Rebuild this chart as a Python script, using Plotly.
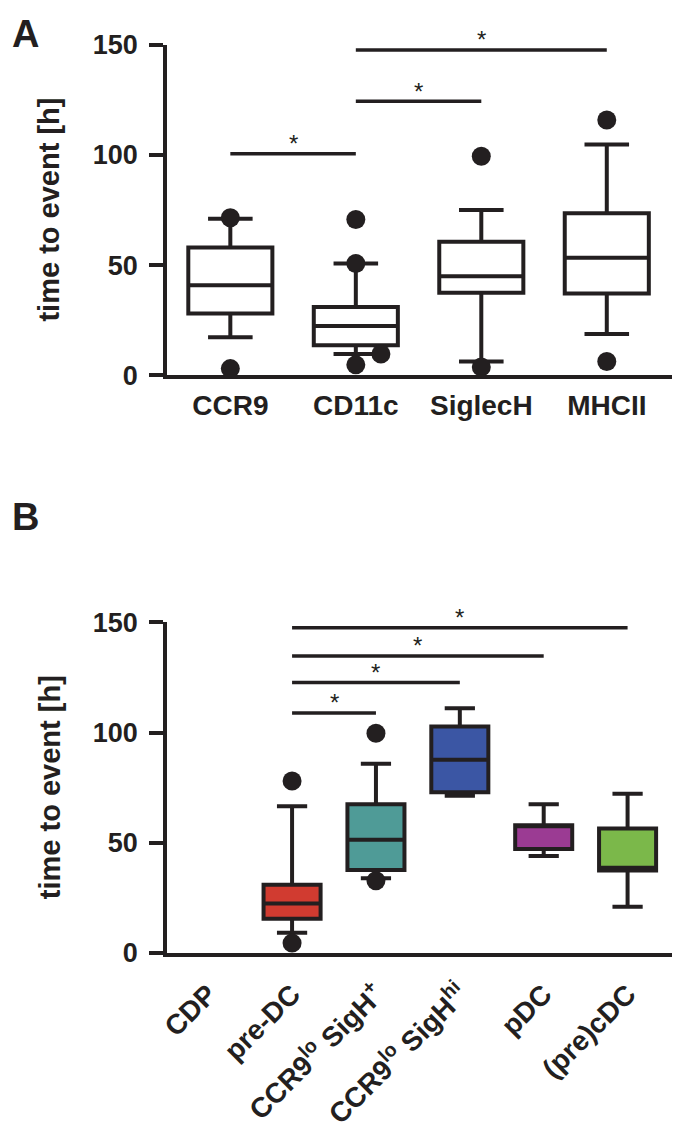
import plotly.graph_objects as go

W, H = 675, 1133
INK = "#231f20"
FONT = "Liberation Sans, Arial, sans-serif"

# ---------------- Panel A data ----------------
a_cats = ["CCR9", "CD11c", "SiglecH", "MHCII"]
a_low = [17.2, 9.6, 6.2, 18.7]
a_q1 = [28, 13.6, 37.5, 37.1]
a_med = [40.8, 22.4, 44.9, 53.3]
a_q3 = [58, 31, 60.6, 73.6]
a_high = [71, 50.7, 75, 104.8]
a_outliers = [[71.5, 3.0], [70.7, 50.7, 4.7], [99.4, 3.7], [115.9, 6.2]]
a_side_outliers = [[], [9.6], [], []]
a_sig = [(0, 1, 100.6), (1, 2, 124.4), (1, 3, 147.7)]

# ---------------- Panel B data ----------------
b_cats = ["CDP", "pre-DC", "CCR9<sup>lo</sup> SigH<sup>+</sup>",
          "CCR9<sup>lo</sup> SigH<sup>hi</sup>", "pDC", "(pre)cDC"]
b_low = [None, 9.1, 33.9, 71.3, 43.9, 20.9]
b_q1 = [None, 15.5, 37.6, 72.9, 47.1, 37.4]
b_med = [None, 22.4, 51.3, 87.7, 57.9, 38.6]
b_q3 = [None, 30.9, 67.5, 102.8, 57.9, 56.4]
b_high = [None, 66.6, 85.9, 111.1, 67.5, 72.2]
b_outliers = [[], [78.0, 4.4], [99.7, 32.7], [], [], []]
b_colors = [None, "#d13b30", "#4f9b97", "#3b56a4", "#9b3b93", "#7bb84a"]
b_sig = [(1, 2, 108.9), (1, 3, 122.7), (1, 4, 134.8), (1, 5, 147.6)]

SIDE_OFFSET = 0.2


def py(px):
    return 1 - px / H


def pxx(px):
    return px / W


fig = go.Figure()

# Panel A boxes
for i, c in enumerate(a_cats):
    fig.add_trace(go.Box(
        x=[i], q1=[a_q1[i]], median=[a_med[i]], q3=[a_q3[i]],
        lowerfence=[a_low[i]], upperfence=[a_high[i]],
        width=0.67, whiskerwidth=0.53, fillcolor="white",
        line=dict(color=INK, width=4), boxpoints=False,
        xaxis="x", yaxis="y", showlegend=False, name=c))
    xs = [i] * len(a_outliers[i]) + [i + SIDE_OFFSET] * len(a_side_outliers[i])
    ys = a_outliers[i] + a_side_outliers[i]
    fig.add_trace(go.Scatter(
        x=xs, y=ys, mode="markers", cliponaxis=False,
        marker=dict(size=19, color=INK), xaxis="x", yaxis="y", showlegend=False))

# Panel B boxes
for i, c in enumerate(b_cats):
    if b_q1[i] is None:
        continue
    fig.add_trace(go.Box(
        x=[i], q1=[b_q1[i]], median=[b_med[i]], q3=[b_q3[i]],
        lowerfence=[b_low[i]], upperfence=[b_high[i]],
        width=0.68, whiskerwidth=0.53, fillcolor=b_colors[i],
        line=dict(color=INK, width=4), boxpoints=False,
        xaxis="x2", yaxis="y2", showlegend=False, name=c))
    if b_outliers[i]:
        fig.add_trace(go.Scatter(
            x=[i] * len(b_outliers[i]), y=b_outliers[i], mode="markers",
            cliponaxis=False, marker=dict(size=19, color=INK),
            xaxis="x2", yaxis="y2", showlegend=False))

shapes = []
annotations = []
for (i, j, v) in a_sig:
    shapes.append(dict(type="line", xref="x", yref="y", x0=i, x1=j, y0=v, y1=v,
                       line=dict(color=INK, width=3.5)))
    annotations.append(dict(text="*", x=(i + j) / 2, y=v, xref="x", yref="y",
                            showarrow=False, yanchor="middle", yshift=10,
                            font=dict(family=FONT, size=24, color=INK)))
for (i, j, v) in b_sig:
    shapes.append(dict(type="line", xref="x2", yref="y2", x0=i, x1=j, y0=v, y1=v,
                       line=dict(color=INK, width=3.5)))
    annotations.append(dict(text="*", x=(i + j) / 2, y=v, xref="x2", yref="y2",
                            showarrow=False, yanchor="middle", yshift=10,
                            font=dict(family=FONT, size=24, color=INK)))

# panel letters
annotations.append(dict(text="A", x=pxx(17.5), y=py(19.5), xref="paper", yref="paper",
                        showarrow=False, xanchor="center", yanchor="middle",
                        font=dict(family=FONT, size=38, color=INK, weight="bold")))
annotations.append(dict(text="B", x=pxx(17.5), y=py(516), xref="paper", yref="paper",
                        showarrow=False, xanchor="center", yanchor="middle",
                        font=dict(family=FONT, size=38, color=INK, weight="bold")))
# y titles
for top, bot in [(30.7, 370), (624, 963.3)]:
    annotations.append(dict(text="time to event [h]", x=pxx(42), y=py((top + bot) / 2),
                            xref="paper", yref="paper", showarrow=False, textangle=-90,
                            xanchor="center", yanchor="middle",
                            font=dict(family=FONT, size=29, color=INK, weight="bold")))

xdom = [161 / W, 672 / W]
tickfont = dict(family=FONT, size=27, color=INK, weight="bold")
yax = dict(range=[0, 150], tickvals=[0, 50, 100, 150], ticks="outside", ticklen=14,
           tickwidth=4, tickcolor=INK, showline=True, linewidth=4, linecolor=INK,
           showgrid=False, zeroline=False, tickfont=tickfont, ticklabelstandoff=6,
           fixedrange=True)

fig.update_layout(
    width=W, height=H, autosize=False,
    margin=dict(l=0, r=0, t=0, b=0),
    paper_bgcolor="white", plot_bgcolor="white",
    xaxis=dict(domain=xdom, range=[-0.504, 3.52], tickvals=list(range(len(a_cats))),
               ticktext=a_cats, ticks="", showline=True, linewidth=4, linecolor=INK,
               showgrid=False, zeroline=False, anchor="y", ticklabelstandoff=2,
               tickfont=dict(family=FONT, size=28, color=INK, weight="bold")),
    yaxis=dict(domain=[py(370), py(30.7)], anchor="x", **yax),
    xaxis2=dict(domain=xdom, range=[-0.49, 5.53], tickvals=list(range(len(b_cats))),
                ticktext=b_cats, ticks="", showline=True, linewidth=4, linecolor=INK,
                showgrid=False, zeroline=False, anchor="y2", tickangle=-45,
                ticklabelstandoff=10,
                tickfont=dict(family=FONT, size=28, color=INK, weight="bold")),
    yaxis2=dict(domain=[py(963.3), py(624)], anchor="x2", **yax),
    shapes=shapes, annotations=annotations,
)

fig.write_html(
    "out.html",
    config={"displayModeBar": False},
    post_script="document.body.style.margin='0';document.body.style.padding='0';",
)
